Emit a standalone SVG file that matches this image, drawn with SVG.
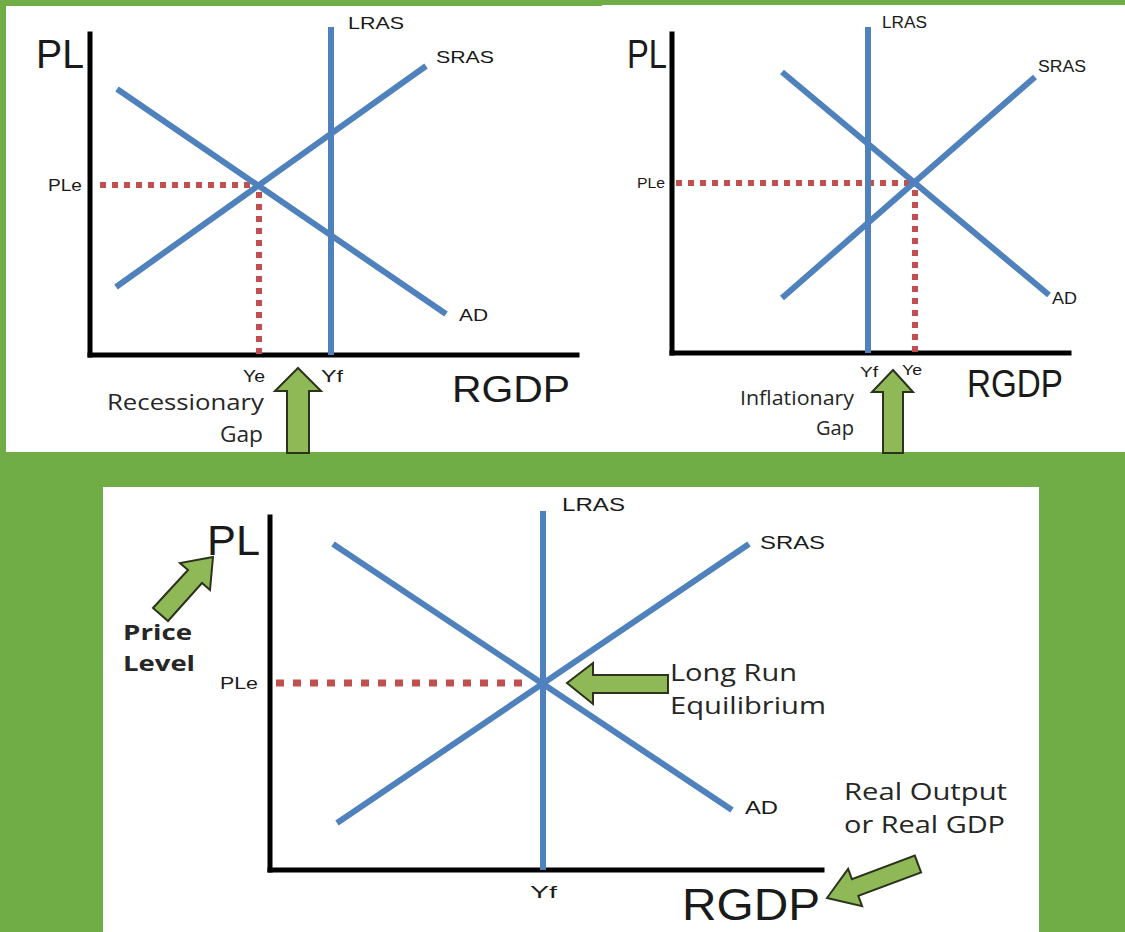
<svg xmlns="http://www.w3.org/2000/svg" width="1125" height="932" viewBox="0 0 1125 932">
  <style>
    .bg { fill: #70ad47; }
    .panel { fill: #ffffff; }
    .axis { stroke: #000000; stroke-width: 5; fill: none; stroke-linecap: square; }
    .curve { stroke: #4f81bd; stroke-width: 6; fill: none; }
    .guide { stroke: #c0504d; stroke-width: 6; fill: none; stroke-dasharray: 6 6; }
    .guide3 { stroke: #c0504d; stroke-width: 7; fill: none; stroke-dasharray: 8 9; }
    .lbl { font-family: "Liberation Sans", Arial, sans-serif; fill: #1a1a1a; }
    .note { font-family: "Open Sans", "Liberation Sans", sans-serif; fill: #262626; }
    .bold { font-weight: bold; }
    .arrow { fill: #8fb856; stroke: #2b331d; stroke-width: 2; stroke-linejoin: miter; }
  </style>

  <!-- green backdrop and white chart panels -->
  <rect class="bg" x="0" y="0" width="1125" height="932"/>
  <rect class="panel" x="6" y="6" width="596" height="446"/>
  <rect class="panel" x="602" y="5" width="523" height="447"/>
  <rect class="panel" x="103" y="487" width="936" height="445"/>

  <!-- Recessionary gap chart -->
  <g id="recessionary-gap">
    <g id="rg-axes">
      <line class="axis" x1="90" y1="34" x2="90" y2="355"/>
      <line class="axis" x1="90" y1="355" x2="577" y2="355"/>
    </g>
    <g id="rg-connectors">
      <line class="guide" x1="100" y1="185" x2="258" y2="185"/>
      <line class="guide" x1="259" y1="192" x2="259" y2="355"/>
      <line class="curve" x1="331" y1="27" x2="331" y2="355"/>
      <line class="curve" x1="116" y1="287" x2="426" y2="66"/>
      <line class="curve" x1="117" y1="89" x2="446" y2="314"/>
    </g>
    <g id="rg-labels">
      <text class="lbl" x="36" y="68" font-size="40" textLength="48" lengthAdjust="spacingAndGlyphs">PL</text>
      <text class="lbl" x="348" y="29" font-size="17" textLength="56" lengthAdjust="spacingAndGlyphs">LRAS</text>
      <text class="lbl" x="436" y="63" font-size="17" textLength="58" lengthAdjust="spacingAndGlyphs">SRAS</text>
      <text class="lbl" x="459" y="321" font-size="17" textLength="29" lengthAdjust="spacingAndGlyphs">AD</text>
      <text class="lbl" x="48" y="191" font-size="16" textLength="34" lengthAdjust="spacingAndGlyphs">PLe</text>
      <text class="lbl" x="243" y="382" font-size="16" textLength="22" lengthAdjust="spacingAndGlyphs">Ye</text>
      <text class="lbl" x="321" y="382" font-size="16" textLength="22" lengthAdjust="spacingAndGlyphs">Yf</text>
      <text class="lbl" x="452" y="402" font-size="36" textLength="118" lengthAdjust="spacingAndGlyphs">RGDP</text>
      <text class="note" x="107" y="410" font-size="22" textLength="157" lengthAdjust="spacingAndGlyphs">Recessionary</text>
      <text class="note" x="220" y="442" font-size="22" textLength="43" lengthAdjust="spacingAndGlyphs">Gap</text>
    </g>
    <polygon id="rg-gap-arrow" class="arrow" points="298,368 321,391 309,391 309,453 287,453 287,391 275,391"/>
  </g>

  <!-- Inflationary gap chart -->
  <g id="inflationary-gap">
    <g id="ig-axes">
      <line class="axis" x1="672" y1="34" x2="672" y2="353"/>
      <line class="axis" x1="672" y1="353" x2="1069" y2="353"/>
    </g>
    <g id="ig-connectors">
      <line class="guide" x1="676" y1="183" x2="914" y2="183"/>
      <line class="guide" x1="915" y1="190" x2="915" y2="353"/>
      <line class="curve" x1="868" y1="27" x2="868" y2="353"/>
      <line class="curve" x1="782" y1="298" x2="1035" y2="77"/>
      <line class="curve" x1="782" y1="72" x2="1049" y2="295"/>
    </g>
    <g id="ig-labels">
      <text class="lbl" x="627" y="68" font-size="40" textLength="40" lengthAdjust="spacingAndGlyphs">PL</text>
      <text class="lbl" x="882" y="28" font-size="16" textLength="45" lengthAdjust="spacingAndGlyphs">LRAS</text>
      <text class="lbl" x="1038" y="72" font-size="16" textLength="48" lengthAdjust="spacingAndGlyphs">SRAS</text>
      <text class="lbl" x="1052" y="304" font-size="16" textLength="25" lengthAdjust="spacingAndGlyphs">AD</text>
      <text class="lbl" x="637" y="188" font-size="14" textLength="28" lengthAdjust="spacingAndGlyphs">PLe</text>
      <text class="lbl" x="860" y="377" font-size="15" textLength="18" lengthAdjust="spacingAndGlyphs">Yf</text>
      <text class="lbl" x="902" y="375" font-size="15" textLength="20" lengthAdjust="spacingAndGlyphs">Ye</text>
      <text class="lbl" x="967" y="397" font-size="38" textLength="96" lengthAdjust="spacingAndGlyphs">RGDP</text>
      <text class="note" x="740" y="405" font-size="20" textLength="114" lengthAdjust="spacingAndGlyphs">Inflationary</text>
      <text class="note" x="816" y="435" font-size="20" textLength="38" lengthAdjust="spacingAndGlyphs">Gap</text>
    </g>
    <polygon id="ig-gap-arrow" class="arrow" points="893,370 913,392 903,392 903,453 883,453 883,392 872,392"/>
  </g>

  <!-- Long run equilibrium chart -->
  <g id="long-run-equilibrium">
    <g id="lr-axes">
      <line class="axis" x1="270" y1="517" x2="270" y2="870"/>
      <line class="axis" x1="270" y1="870" x2="822" y2="870"/>
    </g>
    <g id="lr-connectors">
      <line class="guide3" x1="276" y1="683" x2="530" y2="683"/>
      <line class="curve" x1="543" y1="511" x2="543" y2="870"/>
      <line class="curve" x1="337" y1="823" x2="749" y2="544"/>
      <line class="curve" x1="333" y1="544" x2="732" y2="810"/>
    </g>
    <g id="lr-labels">
      <text class="lbl" x="207" y="555" font-size="43" textLength="53" lengthAdjust="spacingAndGlyphs">PL</text>
      <text class="lbl" x="562" y="511" font-size="18" textLength="63" lengthAdjust="spacingAndGlyphs">LRAS</text>
      <text class="lbl" x="760" y="549" font-size="18" textLength="65" lengthAdjust="spacingAndGlyphs">SRAS</text>
      <text class="lbl" x="745" y="814" font-size="18" textLength="33" lengthAdjust="spacingAndGlyphs">AD</text>
      <text class="lbl" x="220" y="689" font-size="17" textLength="38" lengthAdjust="spacingAndGlyphs">PLe</text>
      <text class="lbl" x="530" y="898" font-size="17" textLength="27" lengthAdjust="spacingAndGlyphs">Yf</text>
      <text class="lbl" x="682" y="920" font-size="44" textLength="138" lengthAdjust="spacingAndGlyphs">RGDP</text>
      <text class="note bold" x="123" y="640" font-size="22" textLength="69" lengthAdjust="spacingAndGlyphs">Price</text>
      <text class="note bold" x="123" y="671" font-size="22" textLength="72" lengthAdjust="spacingAndGlyphs">Level</text>
      <text class="note" x="670" y="681" font-size="24" textLength="127" lengthAdjust="spacingAndGlyphs">Long Run</text>
      <text class="note" x="670" y="714" font-size="24" textLength="156" lengthAdjust="spacingAndGlyphs">Equilibrium</text>
      <text class="note" x="844" y="800" font-size="24" textLength="163" lengthAdjust="spacingAndGlyphs">Real Output</text>
      <text class="note" x="844" y="833" font-size="24" textLength="161" lengthAdjust="spacingAndGlyphs">or Real GDP</text>
    </g>
    <polygon id="lr-price-arrow" class="arrow" points="213,557 210,590 202,583 168,621 153,608 188,570 180,563"/>
    <polygon id="lr-equilibrium-arrow" class="arrow" points="567,683 593,663 593,675 668,675 668,693 593,693 593,704"/>
    <polygon id="lr-output-arrow" class="arrow" points="827,898 862.1,906.2 858.3,895.9 921.1,872.4 914.8,855.6 851.9,879.1 848.1,868.8"/>
  </g>
</svg>
